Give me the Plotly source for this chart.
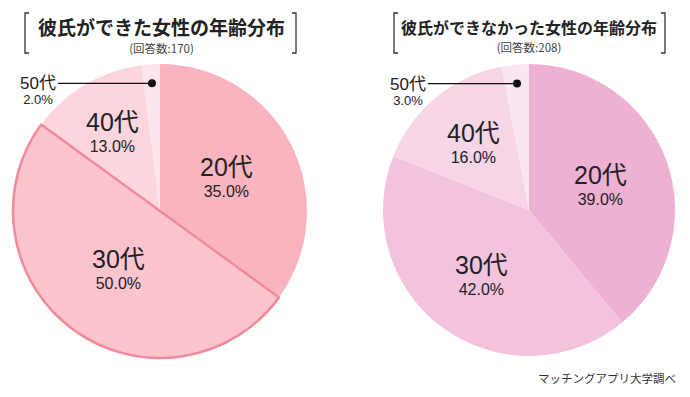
import math
import plotly.graph_objects as go

# ---------------- data ----------------
age_labels = ["20代", "30代", "40代", "50代"]
got_values = [35.0, 50.0, 13.0, 2.0]          # 彼氏ができた女性
not_values = [39.0, 42.0, 16.0, 3.0]          # 彼氏ができなかった女性
titles = ["彼氏ができた女性の年齢分布", "彼氏ができなかった女性の年齢分布"]
counts = [170, 208]
source_text = "マッチングアプリ大学調べ"

# ---------------- styles ----------------
W, H = 690, 397
got_colors = ["#FAB4C0", "#FDC4CD", "#FDD5DC", "#FDE6EB"]
not_colors = ["#EEB1D1", "#F3C3DE", "#F6D5E7", "#FAE6F0"]
border_color = "#EE8C9B"
text_color = "#222222"
label_font = "Liberation Sans, Noto Sans CJK JP, sans-serif"
cjk_font = "Noto Sans CJK JP, sans-serif"

# pie geometry in pixels (center x, center y, radius)
pies = [
    dict(cx=160, cy=211, r=147, values=got_values, colors=got_colors,
         frac=[0.51, 0.48, 0.63], title_size=19, title_x=161, lab_x=57,
         bracket=(25, 296)),
    dict(cx=529, cy=210, r=146, values=not_values, colors=not_colors,
         frac=[0.52, 0.55, 0.60], title_size=16, title_x=529, lab_x=427,
         bracket=(394, 665)),
]


def pxx(x):
    return x / W


def pxy(y):
    return 1 - y / H


def note(x, y, text, size, family, color=text_color, xanchor="center", align="center"):
    return dict(x=pxx(x), y=pxy(y), xref="paper", yref="paper", text=text,
                showarrow=False, xanchor=xanchor, yanchor="middle", align=align,
                borderpad=0, font=dict(size=size, color=color, family=family))


fig = go.Figure()
annotations = []
shapes = []

for i, p in enumerate(pies):
    cx, cy, r = p["cx"], p["cy"], p["r"]
    domain = dict(x=[pxx(cx - r), pxx(cx + r)], y=[pxy(cy + r), pxy(cy - r)])
    fig.add_trace(go.Pie(
        labels=age_labels, values=p["values"], sort=False, direction="clockwise",
        rotation=0, domain=domain, textinfo="none", hoverinfo="label+percent",
        marker=dict(colors=p["colors"], line=dict(width=0)),
        showlegend=False,
    ))
    if i == 0:
        # outline of the 30代 slice drawn on top
        fig.add_trace(go.Pie(
            labels=age_labels, values=p["values"], sort=False, direction="clockwise",
            rotation=0, domain=domain, textinfo="none", hoverinfo="skip",
            marker=dict(colors=["rgba(0,0,0,0)"] * 4,
                        line=dict(width=[0, 2.5, 0, 0],
                                  color=["rgba(0,0,0,0)", border_color,
                                         "rgba(0,0,0,0)", "rgba(0,0,0,0)"])),
            showlegend=False,
        ))

    total = sum(p["values"])
    cum = 0.0
    for k, (lab, v) in enumerate(zip(age_labels, p["values"])):
        mid = (cum + v / 2) / total * 2 * math.pi
        cum += v
        pct = f"{v:.1f}%"
        if k < 3:
            f = p["frac"][k]
            x = cx + f * r * math.sin(mid)
            y = cy - f * r * math.cos(mid)
            annotations.append(note(x, y, f"<span style='font-size:25px'>{lab}</span><br>{pct}",
                                    16, label_font))
        else:
            # leader line for the small slice
            dx = cx + 0.87 * r * math.sin(mid)
            dy = cy - 0.87 * r * math.cos(mid)
            shapes.append(dict(type="line", xref="paper", yref="paper",
                               x0=pxx(p["lab_x"] + 1), x1=pxx(dx), y0=pxy(dy), y1=pxy(dy),
                               line=dict(color="#111111", width=1.2)))
            shapes.append(dict(type="circle", xref="paper", yref="paper",
                               x0=pxx(dx - 4), x1=pxx(dx + 4), y0=pxy(dy - 4), y1=pxy(dy + 4),
                               fillcolor="#111111", line=dict(width=0)))
            annotations.append(note(p["lab_x"], dy + 7.5,
                                    f"<span style='font-size:17px'>{lab}</span><br>"
                                    f"<span style='font-size:13px'>{pct}</span>",
                                    11.5, label_font, xanchor="right"))

    # titles
    annotations.append(note(p["title_x"], 35,
                            f"<span style='font-size:{p['title_size']}px'><b>{titles[i]}</b></span>"
                            f"<br><span style='font-size:11.5px;fill:#444444'>(回答数:{counts[i]})</span>",
                            13.5, cjk_font))
    # brackets
    bl, br = p["bracket"]
    for bx, sgn in ((bl, 1), (br, -1)):
        shapes.append(dict(type="path", xref="paper", yref="paper",
                           path=f"M {pxx(bx + 4 * sgn)},{pxy(13)} L {pxx(bx)},{pxy(13)} "
                                f"L {pxx(bx)},{pxy(53)} L {pxx(bx + 4 * sgn)},{pxy(53)}",
                           line=dict(color="#333333", width=1.3)))

annotations.append(note(677, 378, source_text, 11.5, cjk_font, color="#333333",
                        xanchor="right"))

fig.update_layout(
    width=W, height=H, margin=dict(l=0, r=0, t=0, b=0),
    paper_bgcolor="white", plot_bgcolor="white",
    annotations=annotations, shapes=shapes,
)

fig.write_html("out.html", config={"displayModeBar": False},
               post_script="document.body.style.margin='0';")
